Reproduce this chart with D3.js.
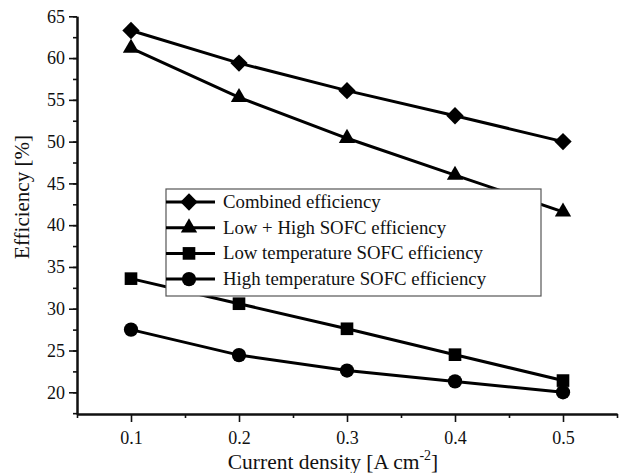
<!DOCTYPE html>
<html><head><meta charset="utf-8">
<script src="https://cdn.jsdelivr.net/npm/d3@7"></script>
<style>body{margin:0;background:#fff}svg{display:block}</style>
</head><body><svg id="c" width="621" height="473" font-family="Liberation Serif, DejaVu Serif, serif"></svg>
<script>
const currentDensity = [0.1, 0.2, 0.3, 0.4, 0.5];
const combined = [63.3, 59.4, 56.1, 53.1, 50.0];
const lowHigh = [61.2, 55.3, 50.4, 46.0, 41.6];
const lowTemp = [33.6, 30.6, 27.6, 24.5, 21.4];
const highTemp = [27.5, 24.45, 22.6, 21.3, 20.0];
const seriesNames = ["Combined efficiency", "Low + High SOFC efficiency", "Low temperature SOFC efficiency", "High temperature SOFC efficiency"];
const xTicks = [0.1, 0.2, 0.3, 0.4, 0.5];
const yTicks = [20, 25, 30, 35, 40, 45, 50, 55, 60, 65];

const FONT = "'Liberation Serif', 'DejaVu Serif', serif";
const svg = d3.select("#c");
const x = d3.scaleLinear().domain([0.05, 0.55]).range([77, 617]);
const y = d3.scaleLinear().domain([17.4, 65]).range([414, 16.3]);

const series = [
  {name: seriesNames[0], values: combined, sym: "diamond"},
  {name: seriesNames[1], values: lowHigh, sym: "triangle"},
  {name: seriesNames[2], values: lowTemp, sym: "square"},
  {name: seriesNames[3], values: highTemp, sym: "circle"}
];

function marker(g, type, cx, cy) {
  if (type === "diamond") {
    g.append("path").attr("d", d3.symbol().type(d3.symbolSquare).size(150)())
      .attr("transform", `translate(${cx},${cy}) rotate(45)`).attr("fill", "#000");
  } else if (type === "triangle") {
    g.append("path").attr("d", d3.symbol().type(d3.symbolTriangle).size(115)())
      .attr("transform", `translate(${cx},${cy})`).attr("fill", "#000");
  } else if (type === "square") {
    g.append("path").attr("d", d3.symbol().type(d3.symbolSquare).size(160)())
      .attr("transform", `translate(${cx},${cy})`).attr("fill", "#000");
  } else {
    g.append("path").attr("d", d3.symbol().type(d3.symbolCircle).size(160)())
      .attr("transform", `translate(${cx},${cy})`).attr("fill", "#000");
  }
}

// axes
const minorY = d3.range(17.5, 65.01, 2.5);
const yAxisMinor = d3.axisLeft(y).tickValues(minorY).tickSize(4).tickFormat("").tickSizeOuter(0);
const yAxis = d3.axisLeft(y).tickValues(yTicks).tickSize(8).tickSizeOuter(0).tickPadding(4);
const minorX = [0.05, 0.15, 0.25, 0.35, 0.45, 0.55];
const xAxisMinor = d3.axisBottom(x).tickValues(minorX).tickSize(4).tickFormat("").tickSizeOuter(0);
const xAxis = d3.axisBottom(x).tickValues(xTicks).tickSize(8).tickSizeOuter(0).tickPadding(9).tickFormat(d3.format(".1f"));

function styleAxis(g) {
  g.attr("font-family", FONT);
  g.select(".domain").attr("stroke", "#111").attr("stroke-width", 2);
  g.selectAll(".tick line").attr("stroke", "#111").attr("stroke-width", 1.6);
  g.selectAll("text").attr("font-family", FONT).attr("font-size", 18).attr("fill", "#111");
}
svg.append("g").attr("transform", "translate(77,0)").call(yAxisMinor).call(styleAxis);
svg.append("g").attr("transform", "translate(77,0)").call(yAxis).call(styleAxis);
svg.append("g").attr("transform", "translate(0,414)").call(xAxisMinor).call(styleAxis);
svg.append("g").attr("transform", "translate(0,414)").call(xAxis).call(styleAxis);

// lines and markers
const line = d3.line().x((d, i) => x(currentDensity[i])).y(d => y(d));
const plot = svg.append("g");
series.forEach(s => {
  plot.append("path").attr("d", line(s.values)).attr("fill", "none").attr("stroke", "#000").attr("stroke-width", 3);
});
series.forEach(s => {
  s.values.forEach((v, i) => marker(plot, s.sym, x(currentDensity[i]), y(v)));
});

// legend
const leg = svg.append("g");
leg.append("rect").attr("x", 166).attr("y", 189).attr("width", 375).attr("height", 107)
  .attr("fill", "#fff").attr("stroke", "#555").attr("stroke-width", 1.2);
series.forEach((s, i) => {
  const cy = 202 + i * 25.7;
  leg.append("line").attr("x1", 166).attr("x2", 215).attr("y1", cy).attr("y2", cy).attr("stroke", "#000").attr("stroke-width", 3);
  marker(leg, s.sym, 189, cy);
  leg.append("text").attr("x", 223).attr("y", cy + 6).attr("font-family", FONT).attr("font-size", 18.8).attr("fill", "#111").text(s.name);
});

// titles
svg.append("text").attr("transform", "translate(29,197) rotate(-90)").attr("text-anchor", "middle")
  .attr("font-family", FONT).attr("font-size", 21).attr("fill", "#111").text("Efficiency [%]");
const xt = svg.append("text").attr("x", 333).attr("y", 469).attr("text-anchor", "middle")
  .attr("font-family", FONT).attr("font-size", 21.5).attr("fill", "#111");
xt.append("tspan").text("Current density [A cm");
xt.append("tspan").attr("dy", -9).attr("font-size", 14).text("-2");
xt.append("tspan").attr("dy", 9).text("]");
</script></body></html>
